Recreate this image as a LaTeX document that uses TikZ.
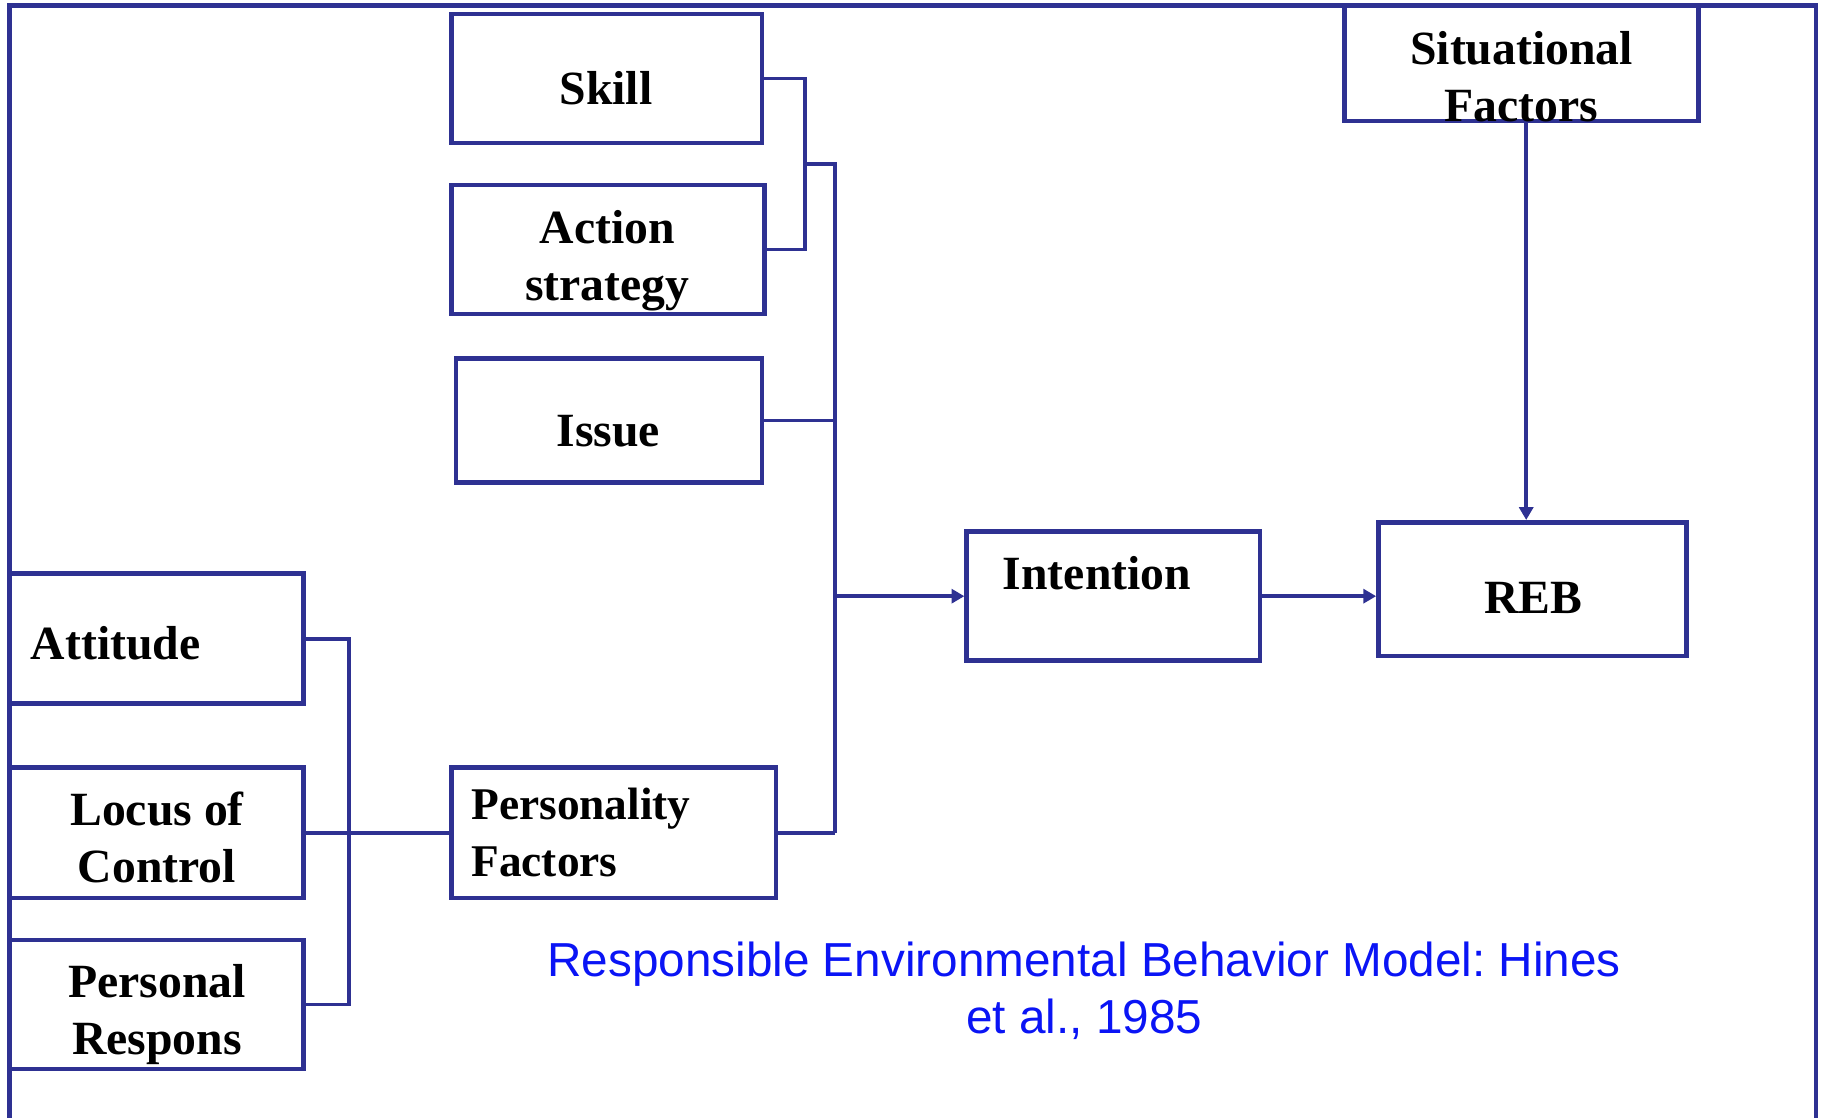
\documentclass[tikz,border=0pt]{standalone}
\usepackage{fontspec}
\setmainfont{Liberation Serif}
\newfontfamily\capfont{Liberation Sans}
\usetikzlibrary{arrows.meta,fit}
\definecolor{navy}{RGB}{46,49,146}
\definecolor{capblue}{RGB}{10,20,245}
\frenchspacing
\begin{document}
\begin{tikzpicture}[x=1pt,y=-1pt,
  box/.style={draw=navy,line width=4pt,inner sep=0pt,rectangle},
  lbl/.style={inner sep=0pt,align=center,font=\fontsize{41}{49}\selectfont\bfseries},
  lbll/.style={inner sep=0pt,align=left,font=\fontsize{39}{49}\selectfont\bfseries},
  conn/.style={draw=navy,line width=3.3pt},
  arr/.style={conn,-{Triangle[length=11pt,width=12pt]}},
  frame/.style={draw=navy,line width=4pt}]
\useasboundingbox (0,0) rectangle (1568,961);
% outer frame (open at bottom)
\draw[frame] (8,961) -- (8,5) -- (1561,5) -- (1561,961);

% boxes
\node[box,fit={(388,12) (655,123)}] (skill) {};
\node[box,fit={(388,159) (657,270)}] (action) {};
\node[box,fit={(392,308) (655,415)}] (issue) {};
\node[box,fit={(1156,5) (1460,104)}] (sit) {};
\node[box,fit={(831,457) (1083,568)}] (intent) {};
\node[box,fit={(1185,449) (1450,564)}] (reb) {};
\node[box,fit={(8,493) (261,605)}] (att) {};
\node[box,fit={(8,660) (261,772)}] (locus) {};
\node[box,fit={(8,808) (261,919)}] (pers) {};
\node[box,fit={(388,660) (667,772)}] (pf) {};

% texts
\node[lbl] (skillt) at (521,76) {Skill};
\node[lbl] (actiont) at (522,224) {Action\\strategy};
\node[lbl] (issuet) at (523,371) {Issue};
\node[lbl] (sitt) at (1308,66) {Situational\\Factors};
\node[lbl] (intentt) at (943,493) {Intention};
\node[lbl] (rebt) at (1318,514) {REB};
\node[lbl] (attt) at (99.5,553) {Attitude};
\node[lbl] (locust) at (135,720) {Locus of\\Control};
\node[lbl] (perst) at (135,872) {Personal\\Respons};
\node[lbll,anchor=west] (pft) at (405,716) {Personality\\Factors};
\node[inner sep=0pt,align=center,text=capblue,font=\capfont\fontsize{41}{49}\selectfont] (cap) at (932,852)
  {Responsible Environmental Behavior Model: Hines\\et al., 1985};

% connectors
\coordinate (bx) at (692,0);
\coordinate (spx) at (718,0);
\draw[conn] (skill.east) -- (skill.east -| bx) |- (action.east);
\coordinate (bmid) at (692,141);
\coordinate (sptop) at (718,141);
\coordinate (spbot) at (718,716);
\draw[conn] (bmid) -- (sptop) -- (spbot);
\draw[conn] (issue.east) -- (issue.east -| spx);
\draw[conn] (pf.east) -- (pf.east -| spx);
\draw[arr] (intent.west -| spx) -- (intent.west);
\draw[arr] (intent.east) -- (intent.east -| reb.west);
\coordinate (sitx) at (1312,0);
\draw[arr] (sit.south -| sitx) -- (reb.north -| sitx);

\coordinate (lbx) at (300,0);
\draw[conn] (att.east) -- (att.east -| lbx) |- (pers.east);
\draw[conn] (locus.east) -- (pf.west);
\end{tikzpicture}
\end{document}
